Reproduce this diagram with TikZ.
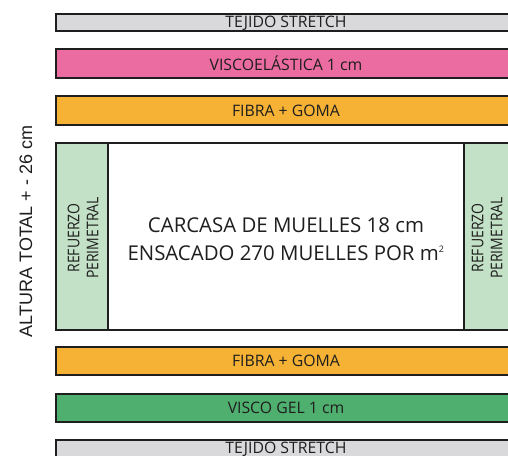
\documentclass[tikz,border=0pt]{standalone}
\usepackage{fontspec}
\setmainfont{Open Sans}
\newfontfamily\arialf{Liberation Sans}
\definecolor{tejido}{HTML}{D9D9DB}
\definecolor{visco}{HTML}{EB6CA1}
\definecolor{fibra}{HTML}{F6B234}
\definecolor{refz}{HTML}{C3E1C6}
\definecolor{gel}{HTML}{4FAF6E}
\definecolor{ink}{HTML}{1E1E1E}
\begin{document}
\begin{tikzpicture}[x=1pt,y=-1pt,
  layer/.style={draw=ink,line width=1.4pt},
  lbl/.style={text=ink,font=\fontsize{15.8}{17}\selectfont,inner sep=0pt},
  big/.style={text=ink,font=\fontsize{20.4}{22}\selectfont,inner sep=0pt},
  side/.style={text=ink,font=\fontsize{14}{16.5}\selectfont,align=center,rotate=90,yscale=1.15,inner sep=0pt}]
\useasboundingbox (0,0) rectangle (508,455);
% layers
\draw[layer,fill=tejido] (56,14) rectangle (516,31);
\node[lbl] (t1) at (286,23) {TEJIDO STRETCH};
\draw[layer,fill=visco] (56,49) rectangle (516,78);
\node[lbl] (v1) at (286,63.5) {VISCOELÁSTICA 1 cm};
\draw[layer,fill=fibra] (56,96) rectangle (516,125);
\node[lbl] (f1) at (286,110.5) {FIBRA + GOMA};
% core
\draw[layer,fill=white] (56,143) rectangle (516,330);
\draw[layer,fill=refz] (56,143) rectangle (108,330);
\draw[layer,fill=refz] (464,143) rectangle (516,330);
\node[side] (r1) at (83,238) {REFUERZO\\PERIMETRAL};
\node[side] (r2) at (487,238) {REFUERZO\\PERIMETRAL};
\node[big] (c1) at (286,225) {CARCASA DE MUELLES 18 cm};
\node[big] (c2) at (286,253) {ENSACADO 270 MUELLES POR m\textsuperscript{\fontsize{9}{10}\selectfont 2}};
% bottom layers
\draw[layer,fill=fibra] (56,347) rectangle (516,375);
\node[lbl] (f2) at (286,361) {FIBRA + GOMA};
\draw[layer,fill=gel] (56,394) rectangle (516,422);
\node[lbl] (g1) at (286,408) {VISCO GEL 1 cm};
\draw[layer,fill=tejido] (56,440) rectangle (516,470);
\node[lbl] (t2) at (286,449) {TEJIDO STRETCH};
% side label
\node[text=ink,font=\arialf\fontsize{18}{20}\selectfont,rotate=90,inner sep=0pt] (alt) at (26,231.5) {ALTURA TOTAL + - 26 cm};
\end{tikzpicture}
\end{document}
